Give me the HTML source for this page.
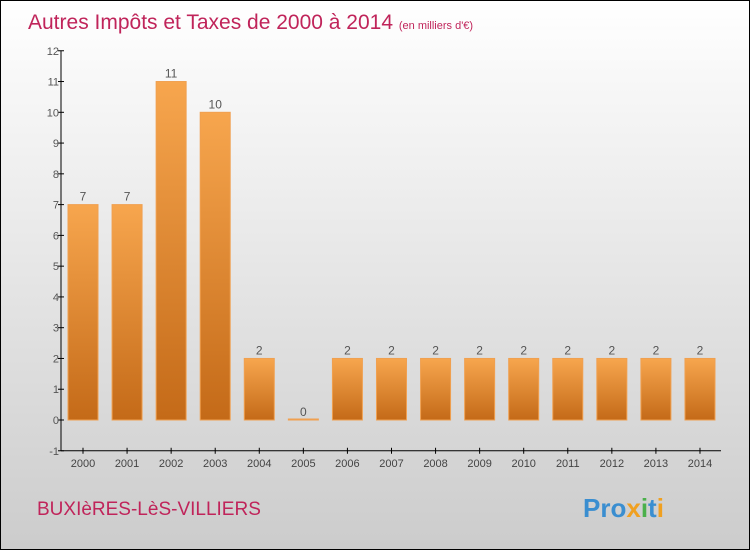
<!DOCTYPE html>
<html><head><meta charset="utf-8"><style>
body{margin:0}
#c{width:750px;height:550px;position:relative;box-sizing:border-box;border:1px solid #000;background:linear-gradient(#fff,#ccc);font-family:"Liberation Sans",sans-serif;overflow:hidden}
</style></head><body>
<div id="c">
<svg width="750" height="550" style="position:absolute;left:0;top:0" id="svg">
<defs><linearGradient id="g" x1="0" y1="0" x2="0" y2="1"><stop offset="0" stop-color="#f7a64e"/><stop offset="1" stop-color="#c46a18"/></linearGradient></defs>
<text x="27" y="28" font-size="21" fill="#c0245a">Autres Impôts et Taxes de 2000 à 2014 <tspan font-size="11">(en milliers d'€)</tspan></text>
<text x="36" y="514" font-size="19" fill="#c0245a">BUXIèRES-LèS-VILLIERS</text>
<text x="582" y="516" font-size="26" font-weight="bold" fill="#3a8ed0">Pro<tspan fill="#f0a020">x</tspan><tspan fill="#4bb04b">i</tspan>t<tspan fill="#f0a020">i</tspan></text>
<g id="plot"></g>
</svg>
</div>
<script>
const categories=["2000","2001","2002","2003","2004","2005","2006","2007","2008","2009","2010","2011","2012","2013","2014"];
const values=[7,7,11,10,2,0,2,2,2,2,2,2,2,2,2];
const yTicks=[-1,0,1,2,3,4,5,6,7,8,9,10,11,12];
const NS="http://www.w3.org/2000/svg";
const g=document.getElementById('plot');
const y0=419,unit=30.77,ax=60;
const y=v=>y0-v*unit;
const x=i=>82+i*44.07;
function el(t,a){const e=document.createElementNS(NS,t);for(const k in a)e.setAttribute(k,a[k]);g.appendChild(e);return e;}
let e=el('line',{x1:ax,y1:y(12),x2:ax,y2:y(-1),stroke:'#000'});


e=el('line',{x1:ax,y1:y(-1),x2:720,y2:y(-1),stroke:'#000'});


yTicks.forEach(v=>{
 let t=el('line',{x1:ax-3,y1:y(v),x2:ax+3,y2:y(v),stroke:'#000'});
 
 
 let l=el('text',{x:ax-2,y:y(v)+4,'font-size':11,fill:'#555','text-anchor':'end'});
 l.textContent=v;
 
 
});
categories.forEach((c,i)=>{
 const cx=x(i),v=values[i];
 let t=el('line',{x1:cx,y1:y(-1)-3,x2:cx,y2:y(-1)+3,stroke:'#000'});
 
 
 let l=el('text',{x:cx,y:y(-1)+16,'font-size':11,fill:'#444','text-anchor':'middle'});
 l.textContent=c;
 
 
 const top=y(Math.max(v,0)),h=Math.max(y(0)-top,1);
 let b=el('rect',{x:cx-15,y:v>0?top:y(0)-1,width:30,height:h,fill:'url(#g)',stroke:'#f0a050','stroke-width':1});
 
 
 let vl=el('text',{x:cx,y:top-4,'font-size':12,fill:'#555','text-anchor':'middle'});
 vl.textContent=v;
 
 
});
</script>
</body></html>
